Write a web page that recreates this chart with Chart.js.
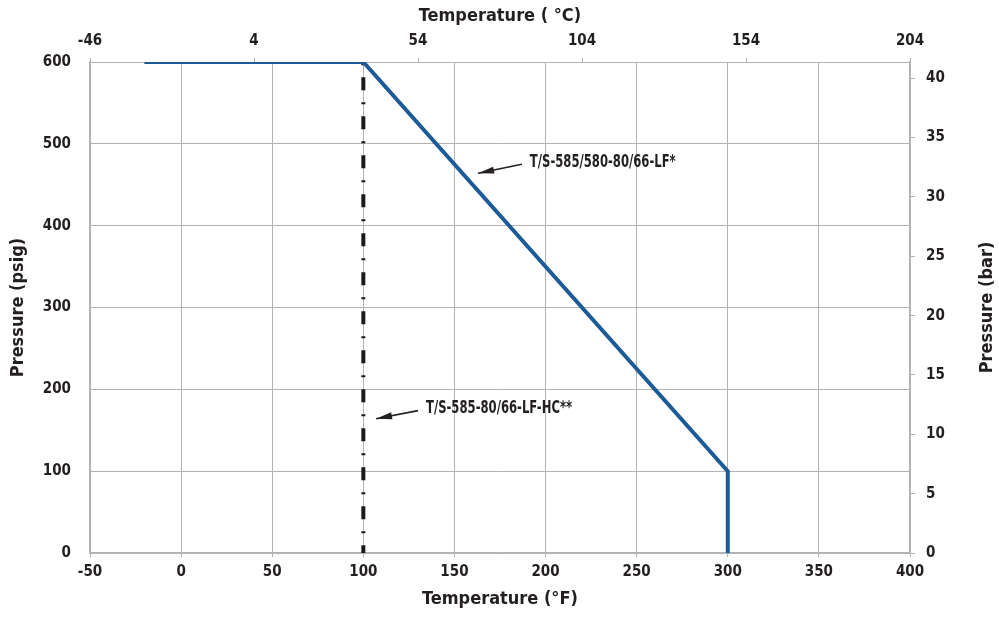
<!DOCTYPE html>
<html>
<head>
<meta charset="utf-8">
<script src="https://cdn.jsdelivr.net/npm/chart.js@4/dist/chart.umd.min.js"></script>
<style>
  html, body { margin: 0; padding: 0; background: #fff; }
  #wrap { width: 999px; height: 618px; position: relative; }
</style>
</head>
<body>
<div id="wrap"><canvas id="chart" width="999" height="618"></canvas></div>
<script>
// rating curve for T/S-585/580-80/66-LF*
const lfTempF = [-20, 100, 300, 300];
const lfPressure = [600, 600, 100, 0];

// T/S-585-80/66-LF-HC** limit
const hcTempF = [-20, 100, 100];
const hcPressure = [600, 600, 0];

const fTicks = [-50, 0, 50, 100, 150, 200, 250, 300, 350, 400];
const cTickLabels = ['-46', '4', '54', '104', '154', '204'];
const psigTicks = [0, 100, 200, 300, 400, 500, 600];
const barTicks = [0, 5, 10, 15, 20, 25, 30, 35, 40];

// callouts: [text, arrow tail F, tail psig, tip F, tip psig]
const callouts = [
  ['T/S-585/580-80/66-LF*', 187, 475, 163, 464],
  ['T/S-585-80/66-LF-HC**', 130, 174, 107, 164]
];

const FONT = "'Liberation Sans Narrow', 'DejaVu Sans Condensed', 'Arial Narrow', sans-serif";
const TXT = '#231f20';
const GRID = '#b3b3b3';
const BLUE = '#1d5b98';
const PSI_PER_BAR = 14.5038;

const calloutPlugin = {
  id: 'callouts',
  afterDatasetsDraw(chart) {
    const { ctx } = chart;
    const xs = chart.scales.x, ys = chart.scales.y;
    ctx.save();
    callouts.forEach(c => {
      const x0 = xs.getPixelForValue(c[1]), y0 = ys.getPixelForValue(c[2]);
      const x1 = xs.getPixelForValue(c[3]), y1 = ys.getPixelForValue(c[4]);
      ctx.strokeStyle = TXT;
      ctx.fillStyle = TXT;
      ctx.lineWidth = 1.6;
      ctx.beginPath();
      ctx.moveTo(x0, y0);
      ctx.lineTo(x1, y1);
      ctx.stroke();
      const a = Math.atan2(y1 - y0, x1 - x0);
      ctx.beginPath();
      ctx.moveTo(x1, y1);
      ctx.lineTo(x1 - 16 * Math.cos(a) + 3.5 * Math.sin(a), y1 - 16 * Math.sin(a) - 3.5 * Math.cos(a));
      ctx.lineTo(x1 - 16 * Math.cos(a) - 3.5 * Math.sin(a), y1 - 16 * Math.sin(a) + 3.5 * Math.cos(a));
      ctx.closePath();
      ctx.fill();
      ctx.save();
      ctx.translate(x0 + 8, y0 - 2);
      ctx.scale(0.76, 1);
      ctx.font = 'bold 17px ' + FONT;
      ctx.textAlign = 'left';
      ctx.textBaseline = 'middle';
      ctx.fillText(c[0], 0, 0);
      ctx.restore();
    });
    // right axis title, reading bottom to top
    const yr = chart.scales.yBar;
    ctx.translate(yr.right - 12, (chart.chartArea.top + chart.chartArea.bottom) / 2);
    ctx.rotate(-Math.PI / 2);
    ctx.font = 'bold 18px ' + FONT;
    ctx.fillStyle = TXT;
    ctx.textAlign = 'center';
    ctx.textBaseline = 'middle';
    ctx.fillText('Pressure (bar)', 0, 0);
    ctx.restore();
  }
};

new Chart(document.getElementById('chart'), {
  type: 'scatter',
  data: {
    datasets: [
      {
        label: 'LF',
        data: lfTempF.map((t, i) => ({ x: t, y: lfPressure[i] })),
        showLine: true,
        borderColor: BLUE,
        borderWidth: 4,
        pointRadius: 0,
        tension: 0
      },
      {
        label: 'LF-HC',
        data: hcTempF.map((t, i) => ({ x: t, y: hcPressure[i] })),
        showLine: true,
        borderColor: '#1a1a1a',
        borderWidth: 4,
        borderDash: [13, 12, 2, 12],
        pointRadius: 0,
        tension: 0
      }
    ]
  },
  options: {
    responsive: false,
    animation: false,
    layout: { padding: 0 },
    plugins: { legend: { display: false }, tooltip: { enabled: false } },
    scales: {
      x: {
        type: 'linear', position: 'bottom', min: -50, max: 400,
        afterBuildTicks: s => { s.ticks = fTicks.map(v => ({ value: v })); },
        afterFit: s => { s.height = 65; },
        grid: { color: GRID, lineWidth: 1, tickLength: 4 },
        border: { color: GRID, width: 1.5 },
        ticks: { color: TXT, padding: 6, font: { family: FONT, size: 15, weight: 'bold' } },
        title: { display: true, text: 'Temperature (°F)', color: TXT, padding: { top: 0, bottom: 8 }, font: { family: FONT, size: 18, weight: 'bold' } }
      },
      xTop: {
        type: 'linear', position: 'top', min: -50, max: 400,
        afterBuildTicks: s => { s.ticks = cTickLabels.map((l, i) => ({ value: -50 + i * 90 })); },
        afterFit: s => { s.height = 62; },
        grid: { drawOnChartArea: false, color: GRID, tickLength: 4 },
        border: { display: false },
        ticks: {
          color: TXT, padding: 8, font: { family: FONT, size: 15, weight: 'bold' },
          callback: (v, i) => cTickLabels[i]
        },
        title: { display: true, text: 'Temperature ( °C)', color: TXT, padding: { top: 6, bottom: 0 }, font: { family: FONT, size: 18, weight: 'bold' } }
      },
      y: {
        type: 'linear', position: 'left', min: 0, max: 600,
        afterBuildTicks: s => { s.ticks = psigTicks.map(v => ({ value: v })); },
        afterFit: s => { s.width = 90; },
        grid: { color: GRID, lineWidth: 1, drawTicks: false },
        border: { color: GRID, width: 1.5 },
        ticks: { color: TXT, padding: 19, font: { family: FONT, size: 15, weight: 'bold' } },
        title: { display: true, text: 'Pressure (psig)', color: TXT, padding: { top: 8, bottom: 0 }, font: { family: FONT, size: 18, weight: 'bold' } }
      },
      yBar: {
        type: 'linear', position: 'right', min: 0, max: 600 / PSI_PER_BAR,
        afterBuildTicks: s => { s.ticks = barTicks.map(v => ({ value: v })); },
        afterFit: s => { s.width = 89; },
        grid: { drawOnChartArea: false, color: GRID, tickLength: 5 },
        border: { color: GRID, width: 1.5 },
        ticks: { color: TXT, padding: 11, font: { family: FONT, size: 15, weight: 'bold' } },
        title: { display: false }
      }
    }
  },
  plugins: [calloutPlugin]
});
</script>
</body>
</html>
